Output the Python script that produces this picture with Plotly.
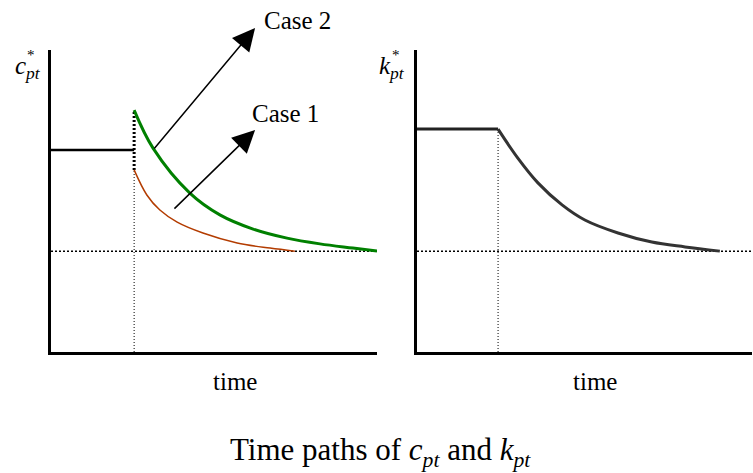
import plotly.graph_objects as go

W, H = 753, 473

# left panel: consumption path c*_pt (time 0..10, level 0..10)
t_shock_c = 2.55
c_before_t = [0, 2.55]
c_before = [6.69, 6.69]
case2_t = [2.55, 3.13, 4.26, 5.18, 6.20, 7.24, 8.25, 9.26, 10.0]
case2_c = [8.01, 6.75, 5.26, 4.54, 4.07, 3.77, 3.58, 3.44, 3.34]
case1_t = [2.55, 2.94, 3.34, 3.87, 4.66, 5.71, 6.72, 7.48]
case1_c = [6.03, 5.20, 4.70, 4.30, 3.94, 3.61, 3.44, 3.34]
c_steady = 3.34

# right panel: capital path k*_pt
t_shock_k = 2.42
k_before_t = [0, 2.42]
k_before = [7.38, 7.38]
k_after_t = [2.42, 3.01, 3.61, 4.33, 5.01, 6.00, 7.01, 8.00, 9.04]
k_after = [7.38, 6.42, 5.60, 4.87, 4.37, 3.94, 3.64, 3.48, 3.34]
k_steady = 3.34

# arrows pointing at the two cases (tail -> head, in left-panel units)
case2_arrow = [(3.13, 6.69), (6.26, 10.73)]
case1_arrow = [(3.74, 4.70), (6.26, 7.35)]

FONT = "Liberation Serif"

fig = go.Figure()

# steady state dotted lines
fig.add_trace(go.Scatter(x=[0, 10], y=[c_steady, c_steady], mode="lines",
                         line=dict(color="black", width=1.5, dash="2px,2px"), xaxis="x", yaxis="y"))
fig.add_trace(go.Scatter(x=[0, 10], y=[k_steady, k_steady], mode="lines",
                         line=dict(color="black", width=1.5, dash="2px,2px"), xaxis="x2", yaxis="y2"))

# vertical dotted lines at the shock
fig.add_trace(go.Scatter(x=[t_shock_c, t_shock_c], y=[0, case1_c[0]], mode="lines",
                         line=dict(color="black", width=1, dash="1px,2px"), xaxis="x", yaxis="y"))
fig.add_trace(go.Scatter(x=[t_shock_c, t_shock_c], y=[case1_c[0], case2_c[0]], mode="lines",
                         line=dict(color="black", width=3, dash="2px,2px"), xaxis="x", yaxis="y"))
fig.add_trace(go.Scatter(x=[t_shock_k, t_shock_k], y=[0, k_before[1]], mode="lines",
                         line=dict(color="black", width=1, dash="1px,2px"), xaxis="x2", yaxis="y2"))

# paths
fig.add_trace(go.Scatter(x=c_before_t, y=c_before, mode="lines",
                         line=dict(color="black", width=2.5), xaxis="x", yaxis="y"))
fig.add_trace(go.Scatter(x=case1_t, y=case1_c, mode="lines", line_shape="spline",
                         line=dict(color="#b33c00", width=1.5), xaxis="x", yaxis="y"))
fig.add_trace(go.Scatter(x=case2_t, y=case2_c, mode="lines", line_shape="spline",
                         line=dict(color="#008000", width=3), xaxis="x", yaxis="y"))
fig.add_trace(go.Scatter(x=k_before_t, y=k_before, mode="lines",
                         line=dict(color="#222222", width=3), xaxis="x2", yaxis="y2"))
fig.add_trace(go.Scatter(x=k_after_t, y=k_after, mode="lines", line_shape="spline",
                         line=dict(color="#333333", width=3), xaxis="x2", yaxis="y2"))

ann = []
for tail, head in [case2_arrow, case1_arrow]:
    ann.append(dict(x=head[0], y=head[1], ax=tail[0], ay=tail[1], xref="x", yref="y",
                    axref="x", ayref="y", text="", showarrow=True, arrowhead=2,
                    arrowsize=3, arrowwidth=1.5, arrowcolor="black"))


def label(text, px, py, size):
    ann.append(dict(text=text, x=px / W, y=1 - py / H, xref="paper", yref="paper",
                    showarrow=False, xanchor="center", yanchor="middle",
                    font=dict(family=FONT, size=size, color="black")))


label("Case 2", 297, 20, 25)
label("Case 1", 285, 113, 25)
label("time", 235, 381, 25)
label("time", 595, 381, 25)
label("Time paths of <i>c<sub>pt</sub></i> and <i>k<sub>pt</sub></i>", 380, 452, 31)
label("<i>c</i><sub><i>pt</i></sub>", 28, 68, 25)
label("*", 31, 55, 15)
label("<i>k</i><sub><i>pt</i></sub>", 392, 68, 25)
label("*", 396, 55, 15)

axis_style = dict(range=[0, 10], showline=True, linewidth=3, linecolor="black",
                  showgrid=False, zeroline=False, showticklabels=False, ticks="",
                  fixedrange=True)

fig.update_layout(
    width=W, height=H,
    margin=dict(l=0, r=0, t=0, b=0),
    paper_bgcolor="white", plot_bgcolor="white",
    showlegend=False,
    xaxis=dict(domain=[51 / W, 377 / W], anchor="y", **axis_style),
    yaxis=dict(domain=[1 - 352 / H, 1 - 50 / H], anchor="x", **axis_style),
    xaxis2=dict(domain=[417 / W, 752 / W], anchor="y2", **axis_style),
    yaxis2=dict(domain=[1 - 352 / H, 1 - 50 / H], anchor="x2", **axis_style),
    annotations=ann,
)

# drop the browser's default body margin so the figure sits at the window corner
fig.write_html("out.html", config={"displayModeBar": False},
               post_script="document.body.style.margin='0';")
